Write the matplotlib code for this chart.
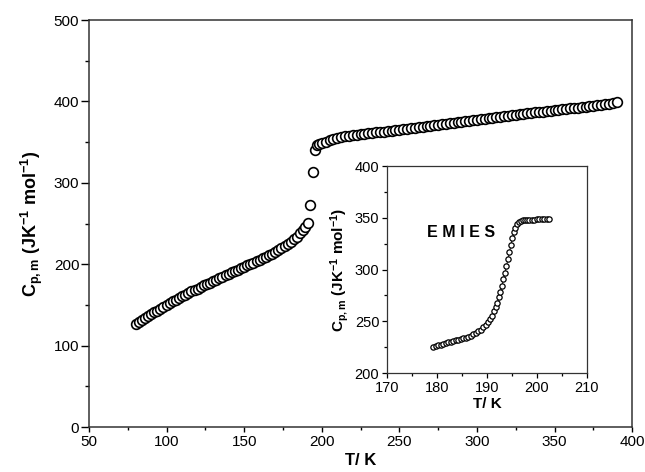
import matplotlib
matplotlib.use("Agg")
import matplotlib.pyplot as plt
from matplotlib.ticker import MultipleLocator

plt.rcParams['font.family'] = ['Liberation Sans', 'DejaVu Sans']
plt.rcParams['mathtext.fontset'] = 'custom'
plt.rcParams['mathtext.rm'] = 'Liberation Sans'
plt.rcParams['mathtext.bf'] = 'Liberation Sans:bold'
plt.rcParams['mathtext.it'] = 'Liberation Sans:italic'

# main curve, low temperature branch + transition
T_low = [80, 82, 84, 86, 88, 90, 92, 94, 96, 98, 100, 102, 104, 106, 108, 110,
         112, 114, 116, 118, 120, 122, 124, 126, 128, 130, 132, 134, 136, 138,
         140, 142, 144, 146, 148, 150, 152, 154, 156, 158, 160, 162, 164, 166,
         168, 170, 172, 174, 176, 178, 180, 182, 184, 186, 188, 189.5,
         191.2, 192.5, 194.4, 195.7, 196.8, 198]
Cp_low = [127, 129, 131.5, 134, 136, 138.5, 141, 143, 145.5, 148, 150, 152,
          154.5, 156.5, 158.5, 160.5, 162.5, 164.5, 166.5, 168, 170, 172, 174,
          175.5, 177.5, 179, 181, 183, 184.5, 186.5, 188, 190, 191.5, 193.5,
          195, 197, 198.5, 200.5, 202, 204, 205.5, 207.5, 209, 211, 213, 215,
          217, 219.5, 222, 224.5, 227.5, 230.5, 234, 238, 242.5, 246,
          251, 273, 313, 340, 346, 347.5]

# main curve, high temperature branch
T_high = [200, 202.5, 205, 207.5, 210, 212.5, 215, 217.5, 220, 222.5, 225,
          227.5, 230, 232.5, 235, 237.5, 240, 242.5, 245, 247.5, 250, 252.5,
          255, 257.5, 260, 262.5, 265, 267.5, 270, 272.5, 275, 277.5, 280,
          282.5, 285, 287.5, 290, 292.5, 295, 297.5, 300, 302.5, 305, 307.5,
          310, 312.5, 315, 317.5, 320, 322.5, 325, 327.5, 330, 332.5, 335,
          337.5, 340, 342.5, 345, 347.5, 350, 352.5, 355, 357.5, 360, 362.5,
          365, 367.5, 370, 372.5, 375, 377.5, 380, 382.5, 385, 387.5, 390]
Cp_high = [349.0, 350.5, 352.0, 353.5, 355.0, 356.0, 357.0, 357.8, 358.5,
           359.2, 359.8, 360.4, 361.0, 361.5, 362.0, 362.5, 363.0, 363.5,
           364.0, 364.5, 365.0, 365.6, 366.2, 366.9, 367.5, 368.1, 368.7,
           369.4, 370.0, 370.6, 371.2, 371.9, 372.5, 373.1, 373.7, 374.4,
           375.0, 375.6, 376.2, 376.9, 377.5, 378.1, 378.7, 379.4, 380.0,
           380.6, 381.2, 381.9, 382.5, 383.1, 383.7, 384.4, 385.0, 385.5,
           386.0, 386.5, 387.0, 387.5, 388.0, 388.5, 389.0, 389.6, 390.2,
           390.9, 391.5, 392.0, 392.5, 393.0, 393.5, 394.1, 394.7, 395.4,
           396.0, 396.6, 397.2, 397.9, 399.0]

# inset: transition region
T_in = [179.3, 179.8, 180.3, 180.8, 181.3, 181.8, 182.3, 182.8, 183.3, 183.8,
        184.3, 184.8, 185.3, 185.8, 186.3, 186.8, 187.3, 187.8, 188.3, 188.8,
        189.3, 189.8, 190.3, 190.7, 191.1, 191.5, 191.8, 192.1, 192.4, 192.7,
        193.0, 193.3, 193.6, 193.9, 194.2, 194.5, 194.8, 195.1, 195.4, 195.7,
        196.0, 196.4, 196.8, 197.2, 197.6, 198.0, 198.5, 199.0, 199.5, 200.0,
        200.5, 201.0, 201.5, 202.0, 202.5]
Cp_in = [225.5, 226.0, 226.8, 227.5, 228.2, 228.8, 229.5, 230.2, 230.8, 231.5,
         232.0, 232.8, 233.5, 234.3, 235.2, 236.2, 237.5, 238.8, 240.3, 242.0,
         244.0, 246.5, 249.0, 252.0, 255.5, 259.5, 263.5, 268.0, 273.0, 278.5,
         284.5, 290.5, 297.0, 303.5, 310.0, 317.0, 324.0, 330.5, 336.0, 340.5,
         344.0, 346.3, 347.2, 347.5, 347.6, 347.8, 348.0, 348.2, 348.3, 348.5,
         348.7, 348.8, 349.0, 349.0, 349.1]

ylab = r'$\mathbf{C_{p,m}\ (JK^{-1}\ mol^{-1})}$'

fig = plt.figure(figsize=(6.45, 4.72), dpi=100)
ax = fig.add_axes([0.138, 0.0953, 0.842, 0.8623])

ax.plot(T_low + T_high, Cp_low + Cp_high, 'o', mfc='white', mec='black',
        ms=7.0, mew=1.2, ls='none')
ax.set_xlim(50, 400)
ax.set_ylim(0, 500)
ax.xaxis.set_major_locator(MultipleLocator(50))
ax.xaxis.set_minor_locator(MultipleLocator(25))
ax.yaxis.set_major_locator(MultipleLocator(100))
ax.yaxis.set_minor_locator(MultipleLocator(50))
ax.tick_params(which='both', direction='out', width=1.0, labelsize=11)
ax.tick_params(axis='x', which='major', length=3.5, pad=2)
ax.tick_params(axis='x', which='minor', length=2.5)
ax.tick_params(axis='y', which='major', length=6, pad=1)
ax.tick_params(axis='y', which='minor', length=3)
ax.set_xlabel('T/ K', fontsize=12, fontweight='bold', labelpad=3)
ax.set_ylabel(ylab, fontsize=13, labelpad=6)
for s in ax.spines.values():
    s.set_linewidth(1.1)
    s.set_color('#333333')

ins = fig.add_axes([0.600, 0.2097, 0.310, 0.4386])
ins.plot(T_in, Cp_in, '-o', color='black', lw=0.6, mfc='white', mec='black',
         ms=3.8, mew=0.9)
ins.set_xlim(170, 210)
ins.set_ylim(200, 400)
ins.xaxis.set_major_locator(MultipleLocator(10))
ins.xaxis.set_minor_locator(MultipleLocator(5))
ins.yaxis.set_major_locator(MultipleLocator(50))
ins.yaxis.set_minor_locator(MultipleLocator(25))
ins.tick_params(which='both', direction='out', width=0.9, labelsize=10.5)
ins.tick_params(which='major', length=3.5, pad=2)
ins.tick_params(which='minor', length=2)
ins.set_xlabel('T/ K', fontsize=11, fontweight='bold', labelpad=2)
ins.set_ylabel(ylab, fontsize=11, labelpad=3)
ins.text(178.0, 335.5, 'E M I E S', fontsize=11.5, fontweight='bold',
         va='center', ha='left')
for s in ins.spines.values():
    s.set_linewidth(0.9)
    s.set_color('#333333')

fig.savefig('out.png', dpi=100)
